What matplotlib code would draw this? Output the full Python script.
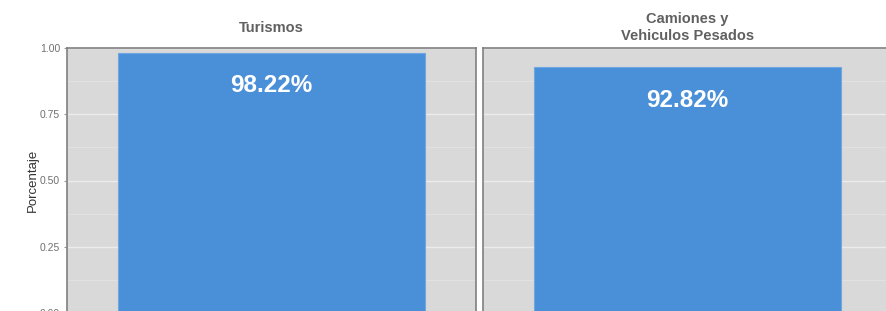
import matplotlib
matplotlib.use("Agg")
import matplotlib.pyplot as plt
import numpy as np

panels = ["Turismos", "Camiones y\nVehiculos Pesados"]
values = [0.9822, 0.9282]
labels = ["98.22%", "92.82%"]
yticks = [0.00, 0.25, 0.50, 0.75, 1.00]
ytick_labels = ["0.00", "0.25", "0.50", "0.75", "1.00"]
ylabel = "Porcentaje"

W, H = 887, 311
fig = plt.figure(figsize=(W / 100, H / 100), dpi=100)
fig.patch.set_facecolor("white")

bottom = 1 - 313 / H
top = 1 - 48 / H
lefts = [67 / W, 483 / W]
width = 409 / W

FONT = ["Liberation Sans", "DejaVu Sans"]
bar_color = "#4a90d9"
strip_y = 1 - 27.5 / H
for i, (name, v, lab) in enumerate(zip(panels, values, labels)):
    ax = fig.add_axes([lefts[i], bottom, width, top - bottom])
    ax.set_facecolor("#d9d9d9")
    ax.set_xlim(0.4, 1.6)
    ax.set_ylim(0, 1)
    ax.set_yticks(yticks)
    ax.set_yticks([0.125, 0.375, 0.625, 0.875], minor=True)
    ax.grid(which="major", axis="y", color="#ececec", linewidth=1.0)
    ax.grid(which="minor", axis="y", color="#e3e3e3", linewidth=0.6)
    ax.set_axisbelow(True)
    ax.bar([1], [v], width=0.9, color=bar_color, edgecolor="#6ea6e2", linewidth=0.8)
    ax.text(1, v - 0.125, lab, ha="center", va="center", color="white",
            fontsize=17.5, fontweight="bold", family=FONT)
    ax.set_xticks([])
    for s in ax.spines.values():
        s.set_color("#808080")
        s.set_linewidth(1.2)
    if i == 0:
        ax.set_yticklabels(ytick_labels, fontsize=7.5, color="#707070", family=FONT)
        ax.tick_params(axis="y", which="major", length=2, color="#999999", pad=3)
        ax.tick_params(axis="y", which="minor", length=0)
        ax.set_ylabel(ylabel, fontsize=9.5, color="#333333", family=FONT, labelpad=1)
    else:
        ax.tick_params(axis="y", which="both", length=0, labelleft=False)
    cx = lefts[i] + width / 2
    fig.text(cx, strip_y, name, ha="center", va="center", fontsize=10.5,
             fontweight="bold", color="#606060", family=FONT, linespacing=1.2,
             multialignment="center")

fig.savefig("out.png", dpi=100, facecolor="white")
